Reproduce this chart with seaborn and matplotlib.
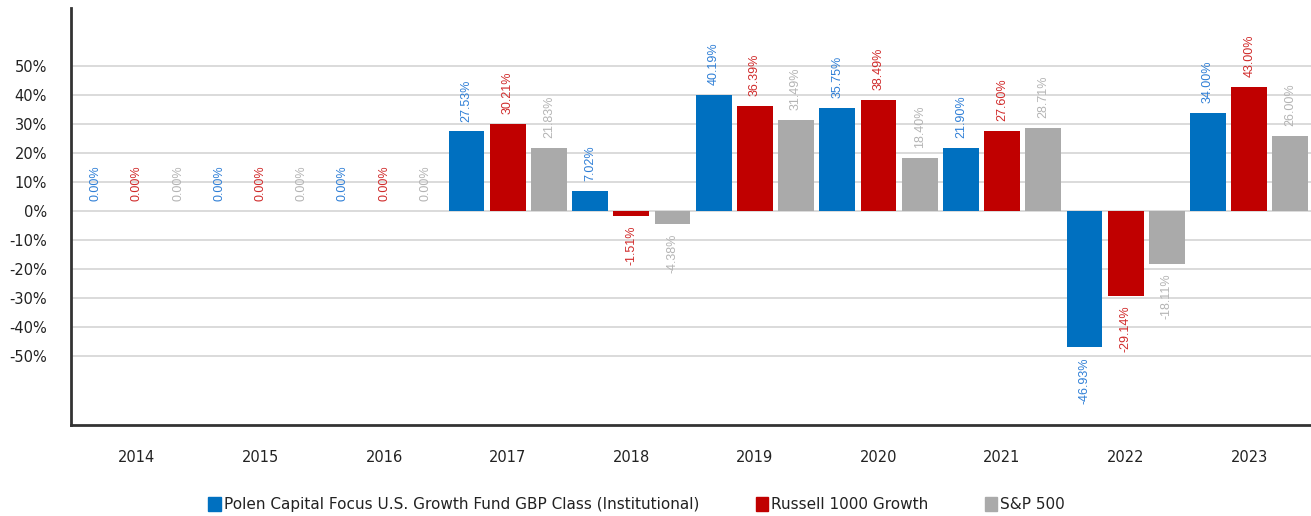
import pandas as pd
import matplotlib.pyplot as plt
import seaborn as sns

# data
years = ['2014', '2015', '2016', '2017', '2018', '2019', '2020', '2021', '2022', '2023']
series = ['Polen Capital Focus U.S. Growth Fund GBP Class (Institutional)',
          'Russell 1000 Growth', 'S&P 500']
polen = [0.00, 0.00, 0.00, 27.53, 7.02, 40.19, 35.75, 21.90, -46.93, 34.00]
russell = [0.00, 0.00, 0.00, 30.21, -1.51, 36.39, 38.49, 27.60, -29.14, 43.00]
sp500 = [0.00, 0.00, 0.00, 21.83, -4.38, 31.49, 18.40, 28.71, -18.11, 26.00]

bar_colors = ['#0070C0', '#C00000', '#AAAAAA']
label_colors = ['#2F7FD6', '#D02A2A', '#B4B4B4']

rows = []
for name, vals in zip(series, [polen, russell, sp500]):
    for y, v in zip(years, vals):
        rows.append({'Year': y, 'Series': name, 'Return': v})
df = pd.DataFrame(rows)

sns.set_theme(style='white')
plt.rcParams['font.family'] = ['DejaVu Sans']

fig = plt.figure(figsize=(13.11, 5.16), dpi=100)
ax = fig.add_axes([0.054, 0.176, 0.946, 0.808])

# grid lines first
for t in range(-50, 51, 10):
    ax.axhline(t, color='#D4D4D4', lw=1.2, zorder=0)

sns.barplot(data=df, x='Year', y='Return', hue='Series', order=years,
            hue_order=series, palette=bar_colors, width=1.0, gap=0.13,
            errorbar=None, saturation=1, legend=False, ax=ax, zorder=2,
            linewidth=0)

for cont, vals, col in zip(ax.containers, [polen, russell, sp500], label_colors):
    ax.bar_label(cont, labels=[f'{v:.2f}%' for v in vals], rotation=90,
                 padding=7, color=col, fontsize=9, family='Liberation Sans')

ax.set_ylim(-73.8, 70)
ax.set_xlim(-0.535, 9.5)
ax.set_yticks(range(-50, 51, 10))
ax.set_yticklabels([f'{t}%' for t in range(-50, 51, 10)], fontsize=10.5, color='#222222')
ax.tick_params(axis='x', length=0, pad=18, labelsize=10.5, labelcolor='#222222')
ax.tick_params(axis='y', length=0, pad=17)
ax.set_xlabel('')
ax.set_ylabel('')

for s in ['top', 'right']:
    ax.spines[s].set_visible(False)
for s in ['left', 'bottom']:
    ax.spines[s].set_color('#333333')
    ax.spines[s].set_linewidth(2)

handles = [plt.Rectangle((0, 0), 1, 1, color=c) for c in bar_colors]
fig.legend(handles, series, loc='center', bbox_to_anchor=(0.4855, 0.022),
           ncol=3, frameon=False, fontsize=11, handlelength=0.8,
           handleheight=1.0, handletextpad=0.2, columnspacing=3.7,
           labelcolor='#222222')

fig.savefig('out.png', dpi=100)
